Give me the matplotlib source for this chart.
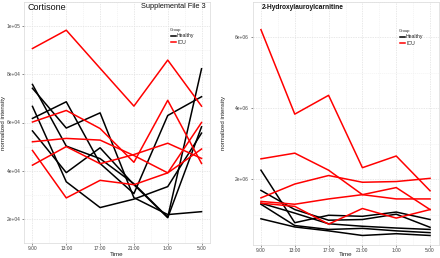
import matplotlib
matplotlib.use("Agg")
import matplotlib.pyplot as plt
from matplotlib.lines import Line2D
import numpy as np

plt.rcParams["font.family"] = ["Liberation Sans", "DejaVu Sans"]

times = ["9:00", "13:00", "17:00", "21:00", "1:00", "5:00"]

# Cortisone
cort_icu = [
    [90700, 98300, 82500, 66800, 85900, 66800],
    [60200, 65000, 57500, 43500, 69200, 43000],
    [52000, 53400, 52700, 46300, 39100, 60000],
    [48400, 28700, 36000, 34200, 39100, 49000],
    [42300, 50000, 42900, 46700, 51400, 45100],
]
cort_healthy = [
    [75800, 50200, 45000, 34600, 20700, 82300],
    [74200, 57700, 64000, 28800, 21800, 23000],
    [66700, 35400, 24700, 28200, 33400, 55600],
    [61700, 68600, 43000, 30500, 62900, 70700],
    [56500, 39200, 49500, 34200, 20500, 58200],
]
cort_ticks = [20000, 40000, 60000, 80000, 100000]
cort_ticklabels = ["2e+04", "4e+04", "6e+04", "8e+04", "1e+05"]

# 2-Hydroxylauroylcarnitine
hlc_icu = [
    [6.22e6, 3.84e6, 4.37e6, 2.33e6, 2.66e6, 1.68e6],
    [2.58e6, 2.74e6, 2.26e6, 1.57e6, 1.45e6, 1.45e6],
    [1.48e6, 1.87e6, 2.11e6, 1.92e6, 1.94e6, 2.03e6],
    [1.38e6, 1.30e6, 1.45e6, 1.57e6, 1.77e6, 1.15e6],
    [1.33e6, 1.24e6, 0.74e6, 1.18e6, 0.91e6, 1.15e6],
]
hlc_healthy = [
    [2.26e6, 0.78e6, 0.99e6, 0.96e6, 1.08e6, 0.87e6],
    [1.69e6, 1.15e6, 0.85e6, 0.87e6, 1.02e6, 0.65e6],
    [1.33e6, 1.05e6, 0.75e6, 0.68e6, 0.63e6, 0.59e6],
    [1.30e6, 0.70e6, 0.59e6, 0.62e6, 0.55e6, 0.50e6],
    [0.89e6, 0.66e6, 0.55e6, 0.42e6, 0.47e6, 0.42e6],
]
hlc_ticks = [2e6, 4e6, 6e6]
hlc_ticklabels = ["2e+06", "4e+06", "6e+06"]

legend_labels = ["Healthy", "ICU"]
legend_colors = ["black", "#FF0000"]

W, H = 440, 258
fig = plt.figure(figsize=(W / 100, H / 100), dpi=100)
fig.patch.set_facecolor("white")


def fx(x):
    return x / W


def fy(y):
    return 1 - y / H


def px_axes(x0, y0, x1, y1):
    return fig.add_axes([x0 / W, 1 - y1 / H, (x1 - x0) / W, (y1 - y0) / H])


def style(ax, ticks, ticklabels, ylim, box, ylabel_x):
    x0, y0, x1, y1 = box
    x = np.arange(len(times))
    ax.set_xlim(-0.25, 5.25)
    ax.set_ylim(*ylim)
    ax.set_xticks(x)
    ax.set_xticklabels(times, fontsize=3.5, color="#444444")
    ax.set_yticks(ticks)
    ax.set_yticklabels(ticklabels, fontsize=3.5, color="#444444")
    step = ticks[1] - ticks[0]
    minor = [ticks[0] - step / 2] + [t + step / 2 for t in ticks]
    ax.set_yticks(minor, minor=True)
    ax.set_xticks(x[:-1] + 0.5, minor=True)
    ax.tick_params(which="major", length=1.3, width=0.4, color="#333333", pad=1.2)
    ax.tick_params(which="minor", length=0)
    ax.grid(which="major", color="#E0E0E0", linestyle=(0, (2, 1.5)), linewidth=0.5)
    ax.grid(which="minor", color="#EEEEEE", linestyle=(0, (2, 1.5)), linewidth=0.4)
    ax.set_axisbelow(True)
    for s in ax.spines.values():
        s.set_color("#D9D9D9")
        s.set_linewidth(0.5)
    ax.set_xlabel("Time", fontsize=4.5, color="#222222", va="center")
    ax.xaxis.set_label_coords(0.5, -(254.5 - y1) / (y1 - y0))
    ax.set_ylabel("normalized intensity", fontsize=4.4, color="#222222", va="center")
    ax.yaxis.set_label_coords(-(x0 - ylabel_x) / (x1 - x0), 0.5)


def legend(gx, gy):
    fig.text(fx(gx), fy(gy), "Group", fontsize=3.0, color="#222222", ha="left", va="center")
    for i, (lab, col) in enumerate(zip(legend_labels, legend_colors)):
        yy = gy + 5.7 + i * 6.6
        fig.add_artist(Line2D([fx(gx + 0.5), fx(gx + 5.5)], [fy(yy), fy(yy)],
                              color=col, lw=1.1, transform=fig.transFigure))
        fig.text(fx(gx + 7), fy(yy), lab, fontsize=3.7, color="#222222", ha="left", va="center")


x = np.arange(len(times))

box1 = (24, 2, 210, 243)
ax1 = px_axes(*box1)
for s in cort_healthy:
    ax1.plot(x, s, color="black", lw=1.1)
for s in cort_icu:
    ax1.plot(x, s, color="#FF0000", lw=1.1)
style(ax1, cort_ticks, cort_ticklabels, (17900, 101500), box1, 3.5)
legend(170, 30)
fig.text(fx(27.5), fy(7.0), "Cortisone", fontsize=6.5, color="#111111", ha="left", va="center")
fig.text(fx(205.5), fy(7.0), "Supplemental File 3", fontsize=5.3, color="#111111", ha="right", va="center")

box2 = (252.5, 2, 438.5, 244.7)
ax2 = px_axes(*box2)
for s in hlc_healthy:
    ax2.plot(x, s, color="black", lw=1.1)
for s in hlc_icu:
    ax2.plot(x, s, color="#FF0000", lw=1.1)
style(ax2, hlc_ticks, hlc_ticklabels, (0.16e6, 6.47e6), box2, 223)
legend(399, 31)
fig.text(fx(261.5), fy(7.5), "2-Hydroxylauroylcarnitine", fontsize=4.8, color="#111111",
         ha="left", va="center", fontweight="bold")

fig.savefig("out.png", dpi=100, facecolor="white")
